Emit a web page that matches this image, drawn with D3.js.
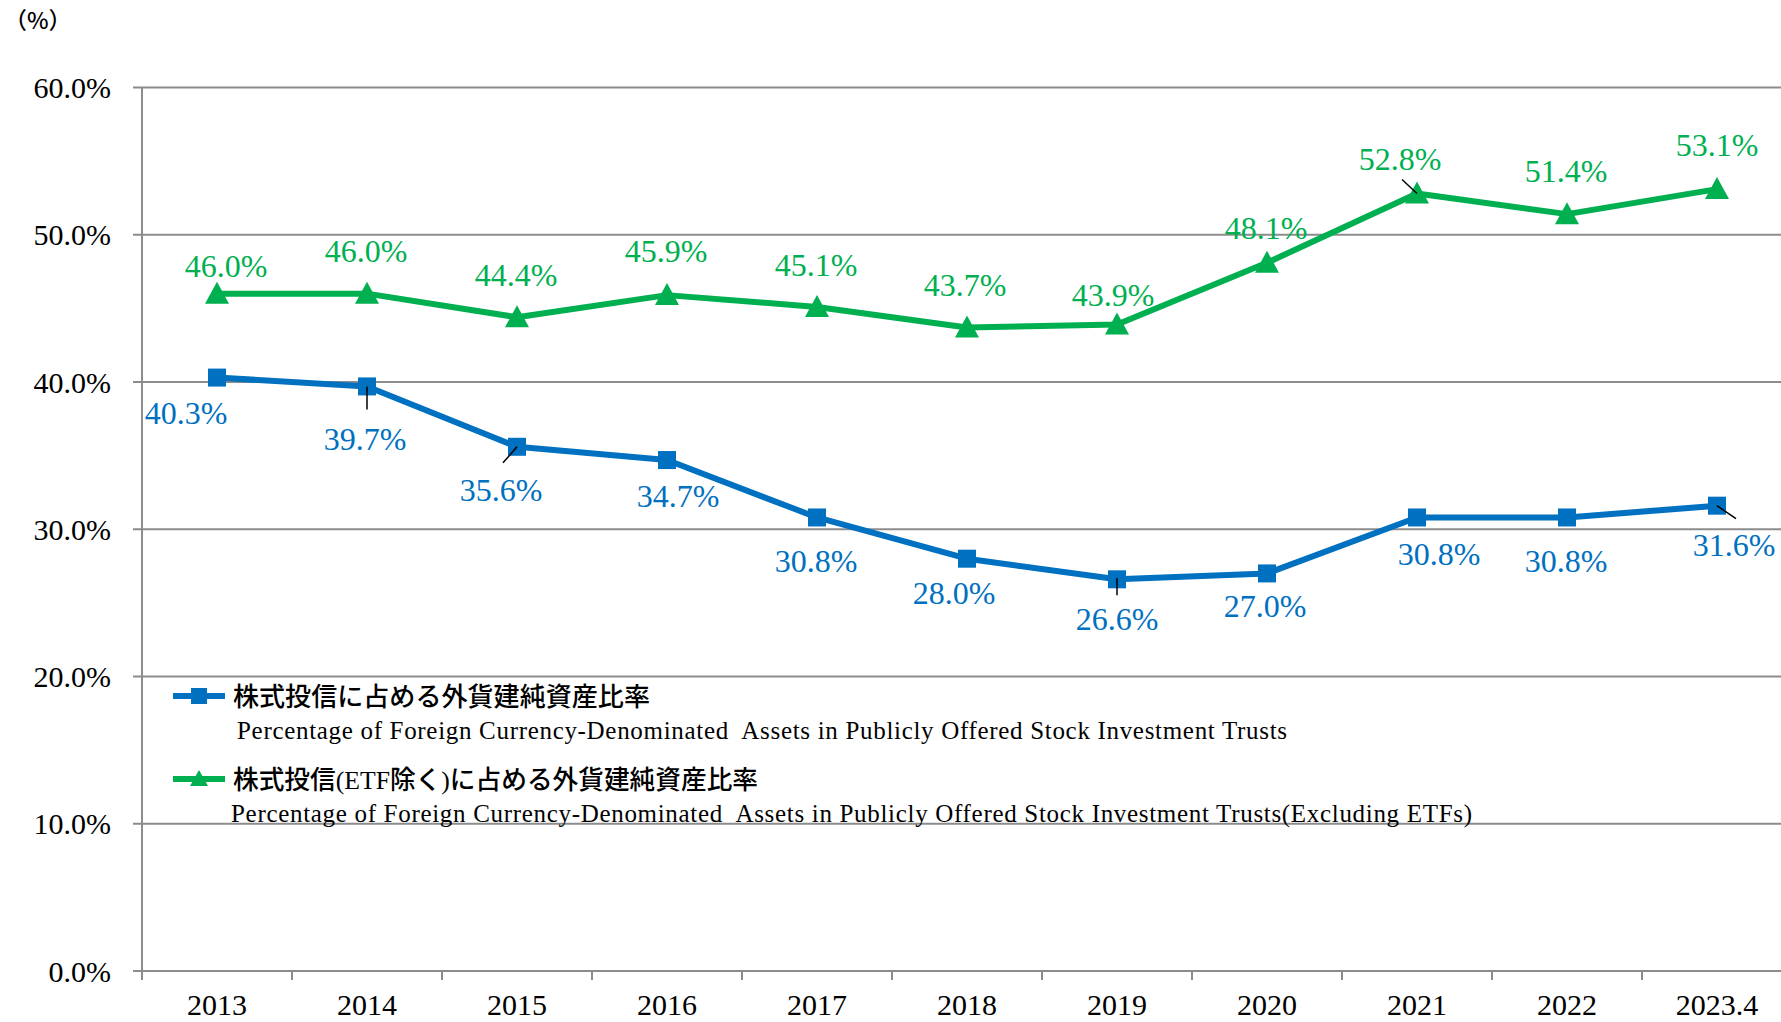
<!DOCTYPE html>
<html>
<head>
<meta charset="utf-8">
<script src="https://cdn.jsdelivr.net/npm/d3@7"></script>
<style>
  body { margin: 0; background: #fff; }
  svg { display: block; }
</style>
</head>
<body>
<svg id="chart"></svg>
<script>
// data
const years = ["2013", "2014", "2015", "2016", "2017", "2018", "2019", "2020", "2021", "2022", "2023.4"];
const stockTrusts = [40.3, 39.7, 35.6, 34.7, 30.8, 28.0, 26.6, 27.0, 30.8, 30.8, 31.6];
const stockTrustsExEtf = [46.0, 46.0, 44.4, 45.9, 45.1, 43.7, 43.9, 48.1, 52.8, 51.4, 53.1];
const yTicks = [0, 10, 20, 30, 40, 50, 60];

const legendJa1 = "株式投信に占める外貨建純資産比率";
const legendEn1 = "Percentage of Foreign Currency-Denominated  Assets in Publicly Offered Stock Investment Trusts";
const legendEn2 = "Percentage of Foreign Currency-Denominated  Assets in Publicly Offered Stock Investment Trusts(Excluding ETFs)";

// label placement (offset from point, px)
const blueLabelOff = [[-31, 35], [-2, 52], [-16, 43], [11, 36], [-1, 43], [-13, 34], [0, 39], [-2, 32], [22, 36], [-1, 43], [17, 39]];
const greenLabelOff = [[9, -28], [-1, -43], [-1, -42], [-1, -44], [-1, -42], [-2, -43], [-4, -30], [-1, -35], [-17, -35], [-1, -43], [0, -44]];

const blue = "#0070C0", green = "#00B050", grid = "#8c8c8c";
const serif = "'Liberation Serif', 'Times New Roman', serif";
const cjk = "'Noto Sans CJK JP', sans-serif";

let svg = d3.select("#chart")
    .attr("width", 1781)
    .attr("height", 1022),
  margin = {top: 87.5, left: 142},
  plotW = 150 * years.length;

let xScale = d3.scaleBand().domain(years).range([margin.left, margin.left + plotW]);
let yScale = d3.scaleLinear().domain([0, 60]).range([971, margin.top]);

// (%) unit
svg.append("text")
  .attr("x", 4).attr("y", 29)
  .attr("font-family", cjk).attr("font-size", 23).attr("font-weight", 500)
  .text("（%）");

// horizontal grid
svg.append("g")
  .selectAll("line")
  .data(yTicks)
  .join("line")
  .attr("x1", margin.left - 9)
  .attr("x2", margin.left + plotW)
  .attr("y1", d => yScale(d))
  .attr("y2", d => yScale(d))
  .attr("stroke", grid)
  .attr("stroke-width", 2);

// y axis line
svg.append("line")
  .attr("x1", margin.left).attr("x2", margin.left)
  .attr("y1", yScale(60)).attr("y2", 980)
  .attr("stroke", grid).attr("stroke-width", 2);

// y labels
svg.append("g")
  .selectAll("text")
  .data(yTicks)
  .join("text")
  .attr("x", 111)
  .attr("y", d => yScale(d))
  .attr("dy", "0.35em")
  .attr("text-anchor", "end")
  .attr("font-family", serif)
  .attr("font-size", 30)
  .text(d => d.toFixed(1) + "%");

// x ticks between categories
svg.append("g")
  .selectAll("line")
  .data(years.slice(1))
  .join("line")
  .attr("x1", d => xScale(d)).attr("x2", d => xScale(d))
  .attr("y1", 971).attr("y2", 980)
  .attr("stroke", grid).attr("stroke-width", 2);

// x labels
svg.append("g")
  .selectAll("text")
  .data(years)
  .join("text")
  .attr("x", d => xScale(d) + xScale.bandwidth() / 2)
  .attr("y", 1015)
  .attr("text-anchor", "middle")
  .attr("font-family", serif)
  .attr("font-size", 30)
  .text(d => d);

const cx = (d, i) => xScale(years[i]) + xScale.bandwidth() / 2;

const line = d3.line()
  .x((d, i) => cx(d, i))
  .y(d => yScale(d));

// leader lines
const leaders = [
  {s: stockTrusts, i: 1, a: [0, 0], b: [0, 23]},
  {s: stockTrusts, i: 2, a: [0, 0], b: [-14, 16]},
  {s: stockTrusts, i: 6, a: [0, -1], b: [0, 16]},
  {s: stockTrusts, i: 10, a: [0, 0], b: [19, 13]},
  {s: stockTrustsExEtf, i: 8, a: [-15, -14], b: [0, 0]}
];

function drawSeries(values, color, shape, labelOff) {
  svg.append("path")
    .datum(values)
    .attr("fill", "none")
    .attr("stroke", color)
    .attr("stroke-width", 6)
    .attr("stroke-linejoin", "round")
    .attr("d", line);

  svg.append("g")
    .selectAll("path")
    .data(values)
    .join("path")
    .attr("transform", (d, i) => "translate(" + cx(d, i) + "," + yScale(d) + ")")
    .attr("d", shape)
    .attr("fill", color);

  svg.append("g")
    .selectAll("text")
    .data(values)
    .join("text")
    .attr("x", (d, i) => cx(d, i) + labelOff[i][0])
    .attr("y", (d, i) => yScale(d) + labelOff[i][1])
    .attr("dy", "0.35em")
    .attr("text-anchor", "middle")
    .attr("font-family", serif)
    .attr("font-size", 32)
    .attr("fill", color)
    .text(d => d.toFixed(1) + "%");
}

const square = d3.symbol().type(d3.symbolSquare).size(18 * 18)();
const triangle = "M0,-12L12,10L-12,10Z";

drawSeries(stockTrusts, blue, square, blueLabelOff);
drawSeries(stockTrustsExEtf, green, triangle, greenLabelOff);

svg.append("g")
  .selectAll("line")
  .data(leaders)
  .join("line")
  .attr("x1", d => cx(0, d.i) + d.a[0])
  .attr("y1", d => yScale(d.s[d.i]) + d.a[1])
  .attr("x2", d => cx(0, d.i) + d.b[0])
  .attr("y2", d => yScale(d.s[d.i]) + d.b[1])
  .attr("stroke", "#000")
  .attr("stroke-width", 1.5);

// legend
let lg = svg.append("g");
lg.append("line").attr("x1", 173).attr("x2", 225).attr("y1", 696).attr("y2", 696)
  .attr("stroke", blue).attr("stroke-width", 6);
lg.append("path").attr("transform", "translate(199,696)")
  .attr("d", d3.symbol().type(d3.symbolSquare).size(16 * 16)()).attr("fill", blue);
lg.append("text").attr("x", 233).attr("y", 706)
  .attr("font-family", cjk).attr("font-size", 26).attr("font-weight", 500)
  .attr("textLength", 417).attr("lengthAdjust", "spacingAndGlyphs")
  .text(legendJa1);
lg.append("text").attr("x", 237).attr("y", 739)
  .attr("font-family", serif).attr("font-size", 25)
  .attr("textLength", 1050).attr("lengthAdjust", "spacing")
  .style("white-space", "pre")
  .text(legendEn1);

lg.append("line").attr("x1", 173).attr("x2", 225).attr("y1", 779).attr("y2", 779)
  .attr("stroke", green).attr("stroke-width", 6);
lg.append("path").attr("transform", "translate(199,779)")
  .attr("d", "M0,-9L9,7L-9,7Z").attr("fill", green);
let ja2 = lg.append("text").attr("x", 233).attr("y", 789)
  .attr("font-size", 26).attr("font-weight", 500)
  .attr("textLength", 525).attr("lengthAdjust", "spacingAndGlyphs");
ja2.append("tspan").attr("font-family", cjk).text("株式投信");
ja2.append("tspan").attr("font-family", serif).attr("font-weight", 400).text("(ETF");
ja2.append("tspan").attr("font-family", cjk).text("除く");
ja2.append("tspan").attr("font-family", serif).attr("font-weight", 400).text(")");
ja2.append("tspan").attr("font-family", cjk).text("に占める外貨建純資産比率");
lg.append("text").attr("x", 231).attr("y", 822)
  .attr("font-family", serif).attr("font-size", 25)
  .attr("textLength", 1241).attr("lengthAdjust", "spacing")
  .style("white-space", "pre")
  .text(legendEn2);
</script>
</body>
</html>
